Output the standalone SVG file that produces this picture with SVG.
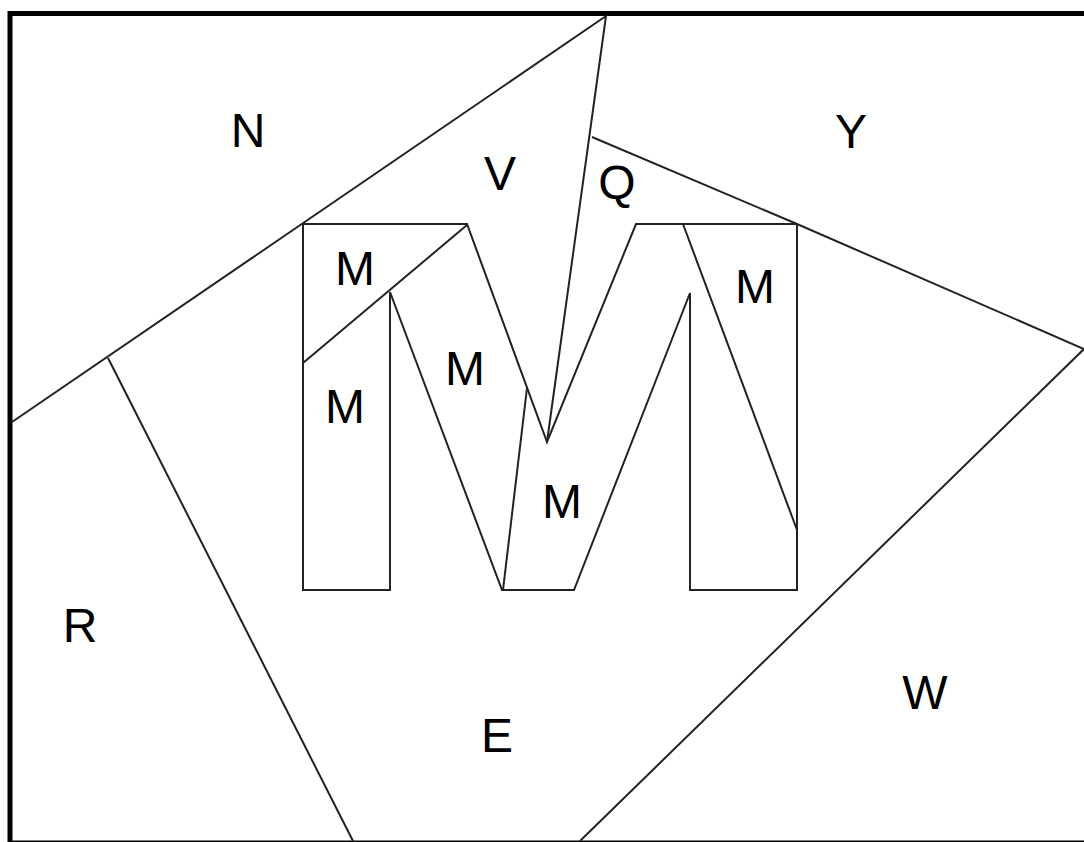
<svg xmlns="http://www.w3.org/2000/svg" width="1084" height="842" viewBox="0 0 1084 842">
<style>
.ln{fill:none;stroke:#222;stroke-width:2;stroke-linejoin:miter}
.frame{fill:none;stroke:#000;stroke-width:5}
.lb{font-family:"Liberation Sans",Arial,sans-serif;font-size:48px;fill:#000;text-anchor:middle}
</style>
<rect width="1084" height="842" fill="#fff"/>
<rect class="frame" x="10" y="13.5" width="1100" height="829.5"/>
<g id="connectors">
<polyline class="ln" points="12,422 606,16 547,442"/>
<line class="ln" x1="108" y1="358" x2="353" y2="841"/>
<polyline class="ln" points="592,137 797,224 1084,349 580,841"/>
</g>
<g id="M-shape">
<polygon class="ln" points="303,224 467,224 547,442 636,224 797,224 797,590 690,590 690,293 574,590 502,590 390,292 390,590 303,590"/>
<line class="ln" x1="467" y1="225" x2="303" y2="363"/>
<line class="ln" x1="527" y1="388" x2="503" y2="590"/>
<line class="ln" x1="683" y1="224" x2="797" y2="530"/>
</g>
<g id="N"><text class="lb" x="248" y="147">N</text></g>
<g id="V"><text class="lb" x="500" y="190">V</text></g>
<g id="Q"><text class="lb" x="617" y="199">Q</text></g>
<g id="Y"><text class="lb" x="851" y="148">Y</text></g>
<g id="M1"><text class="lb" x="355" y="285">M</text></g>
<g id="M2"><text class="lb" x="345" y="423">M</text></g>
<g id="M3"><text class="lb" x="465" y="385">M</text></g>
<g id="M4"><text class="lb" x="562" y="518">M</text></g>
<g id="M5"><text class="lb" x="755" y="303">M</text></g>
<g id="R"><text class="lb" x="80" y="642">R</text></g>
<g id="E"><text class="lb" x="497" y="752">E</text></g>
<g id="W"><text class="lb" x="925" y="709">W</text></g>
</svg>
